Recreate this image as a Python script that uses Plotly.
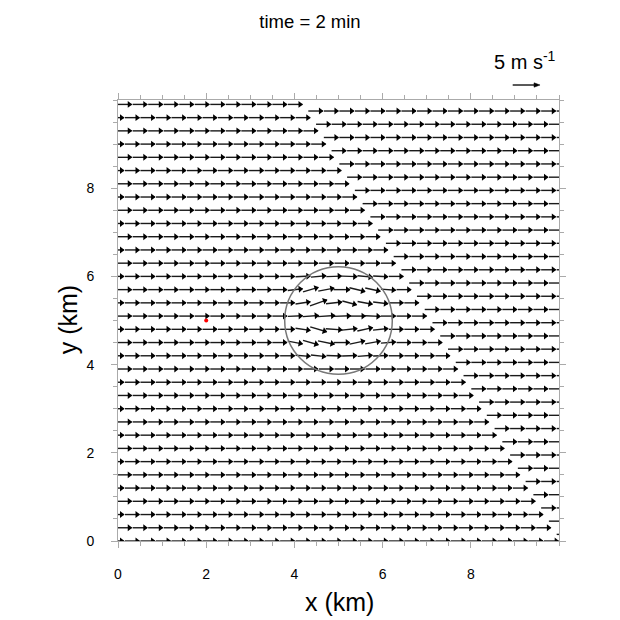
import numpy as np
import plotly.graph_objects as go

# ---------------- data ----------------
title_text = "time = 2 min"
x_tick_vals = [0, 2, 4, 6, 8]
y_tick_vals = [0, 2, 4, 6, 8]

U0 = 2.66                 # background wind (m/s)
ref_speed = 5             # reference vector (m/s)
km_per_ms = 0.124         # arrow length per m/s (5 m/s -> 0.62 km)

row_spacing = 0.3         # km
col_spacing = 0.352       # km
n_left_rows = 34          # y = 0.0 ... 9.9
n_right_rows = 33         # y = 0.15 ... 9.75
left_center_phase = [-0.031, 0.145]   # even / odd rows
right_center_phase = [0.256, 0.080]   # even / odd rows
boundary_top_x = 4.19     # discontinuity x at y = 9.9
boundary_slope = 0.587    # dx/dy of the discontinuity

# disturbance inside the circle (rows y = 6.0 ... 4.2, 7 columns each)
vortex_row_index = [20, 19, 18, 17, 16, 15, 14]
vortex_first_col = [12, 11, 12, 11, 12, 11, 12]
vortex_u = [
    [2.70, 2.75, 2.80, 2.80, 2.75, 2.70, 2.66],
    [2.70, 2.80, 2.90, 3.00, 2.85, 2.75, 2.70],
    [2.70, 3.10, 2.90, 2.60, 2.70, 2.70, 2.66],
    [2.70, 2.90, 3.20, 3.30, 3.00, 2.80, 2.70],
    [2.70, 3.00, 3.00, 2.80, 2.80, 2.75, 2.66],
    [2.70, 2.80, 3.00, 2.90, 2.80, 2.80, 2.70],
    [2.70, 2.75, 2.75, 2.70, 2.70, 2.70, 2.66],
]
vortex_v = [
    [0.15, 0.25, 0.10, -0.10, -0.25, -0.15, 0.00],
    [0.30, 0.80, 0.55, 0.00, -0.70, -0.60, -0.20],
    [0.40, 1.10, 0.30, -0.70, -0.50, -0.30, 0.00],
    [0.10, 0.20, 0.20, 0.10, 0.00, -0.10, 0.00],
    [-0.40, -0.90, -0.20, 0.30, 0.60, 0.30, 0.00],
    [-0.50, -0.80, -0.60, 0.00, 0.60, 0.50, 0.20],
    [-0.20, -0.30, -0.10, 0.10, 0.20, 0.10, 0.00],
]

circle_center = (5.0, 5.0)
circle_radius = 1.22
marker_point = (2.0, 5.0)
ref_arrow_tip = (9.57, 10.34)   # km, above the frame

# ---------------- build arrows ----------------
def boundary(y):
    return boundary_top_x + boundary_slope * (9.9 - y)

half_bg = U0 * km_per_ms / 2
vortex_lookup = {}
for r, ri in enumerate(vortex_row_index):
    for c in range(7):
        vortex_lookup[(ri, vortex_first_col[r] + c)] = (vortex_u[r][c], vortex_v[r][c])

arrows = []  # (cx, cy, u, v)
for i in range(n_left_rows):
    y = i * row_spacing
    ph = left_center_phase[i % 2]
    for k in range(0, 32):
        cx = ph + k * col_spacing
        if cx + half_bg < -0.05:
            continue
        if cx + half_bg > boundary(y) + 0.1:
            continue
        u, v = vortex_lookup.get((i, k), (U0, 0.0))
        arrows.append((cx, y, u, v))

for j in range(n_right_rows):
    y = 0.15 + j * row_spacing
    ph = right_center_phase[j % 2]
    for k in range(0, 32):
        cx = ph + k * col_spacing
        tail = cx - half_bg
        if tail < boundary(y) - 0.1 or tail > 10.0:
            continue
        arrows.append((cx, y, U0, 0.0))

lx, ly, hx, hy, ang = [], [], [], [], []
back = 2.4 / 44.1  # pull triangle centre back from the tip (km)
for cx, cy, u, v in arrows:
    dx, dy = u * km_per_ms, v * km_per_ms
    x0, y0, x1, y1 = cx - dx / 2, cy - dy / 2, cx + dx / 2, cy + dy / 2
    lx += [x0, x1, None]
    ly += [y0, y1, None]
    L = np.hypot(dx, dy)
    hx.append(x1 - back * dx / L)
    hy.append(y1 - back * dy / L)
    ang.append(-np.degrees(np.arctan2(dy, dx)))

fig = go.Figure()
fig.add_trace(go.Scatter(x=lx, y=ly, mode="lines",
                         line=dict(color="#1a1a1a", width=1.4),
                         hoverinfo="skip", showlegend=False))
fig.add_trace(go.Scatter(x=hx, y=hy, mode="markers",
                         marker=dict(symbol="triangle-right", size=6, angle=ang,
                                     color="#000000", line=dict(width=0)),
                         hoverinfo="skip", showlegend=False))
fig.add_trace(go.Scatter(x=[marker_point[0]], y=[marker_point[1]], mode="markers",
                         marker=dict(color="red", size=4),
                         hoverinfo="skip", showlegend=False))

# reference vector above the frame (paper coords; axis range is 0..10)
rx1, ry = ref_arrow_tip
rx0 = rx1 - ref_speed * km_per_ms
px0, px1, py = rx0 / 10, rx1 / 10, ry / 10
hl, hw = 6 / 441, 2.2 / 441
fig.add_shape(type="line", xref="paper", yref="paper", x0=px0, x1=px1 - hl, y0=py, y1=py,
              line=dict(color="black", width=1.3))
fig.add_shape(type="path", xref="paper", yref="paper",
              path=f"M {px1},{py} L {px1 - hl},{py + hw} L {px1 - hl},{py - hw} Z",
              fillcolor="black", line=dict(color="black", width=0.5))

cx0, cy0 = circle_center
fig.add_shape(type="circle", xref="x", yref="y",
              x0=cx0 - circle_radius, x1=cx0 + circle_radius,
              y0=cy0 - circle_radius, y1=cy0 + circle_radius,
              line=dict(color="#777777", width=1.5))

axis_common = dict(
    range=[0, 10], showgrid=False, zeroline=False, automargin=False,
    showline=True, linecolor="#aaaaaa", linewidth=1, mirror="ticks",
    ticks="outside", ticklen=6, tickcolor="#aaaaaa", tickwidth=1,
    tickfont=dict(family="Liberation Sans, Arial, sans-serif", size=14, color="black"),
    minor=dict(ticks="outside", ticklen=4, dtick=0.5, tick0=0,
               tickcolor="#aaaaaa", tickwidth=1, showgrid=False),
    ticklabelstandoff=14,
)
fig.update_xaxes(tickvals=x_tick_vals, ticktext=[str(v) for v in x_tick_vals], **axis_common)
fig.update_yaxes(tickvals=y_tick_vals, ticktext=[str(v) for v in y_tick_vals], **axis_common)

font = "Liberation Sans, Arial, sans-serif"
fig.update_layout(
    width=620, height=620, autosize=False,
    margin=dict(l=118, r=61, t=100, b=79),
    paper_bgcolor="white", plot_bgcolor="white",
    title=dict(text=title_text, x=0.5, xref="container", y=1 - 22 / 620,
               yref="container", yanchor="middle", xanchor="center",
               font=dict(family=font, size=18.5, color="black")),
    annotations=[
        dict(text="x (km)", xref="paper", yref="paper", x=0.503, y=-0.138,
             showarrow=False, font=dict(family=font, size=25, color="black"),
             xanchor="center", yanchor="middle"),
        dict(text="y (km)", xref="paper", yref="paper", x=-0.113, y=0.501,
             showarrow=False, textangle=-90,
             font=dict(family=font, size=25, color="black"),
             xanchor="center", yanchor="middle"),
        dict(text="5 m s<sup>-1</sup>", xref="paper", yref="paper", x=0.923, y=1.09,
             showarrow=False, font=dict(family=font, size=20, color="black"),
             xanchor="center", yanchor="middle"),
    ],
)

fig.write_html("out.html", config={"displayModeBar": False},
               post_script="document.body.style.margin='0';")
